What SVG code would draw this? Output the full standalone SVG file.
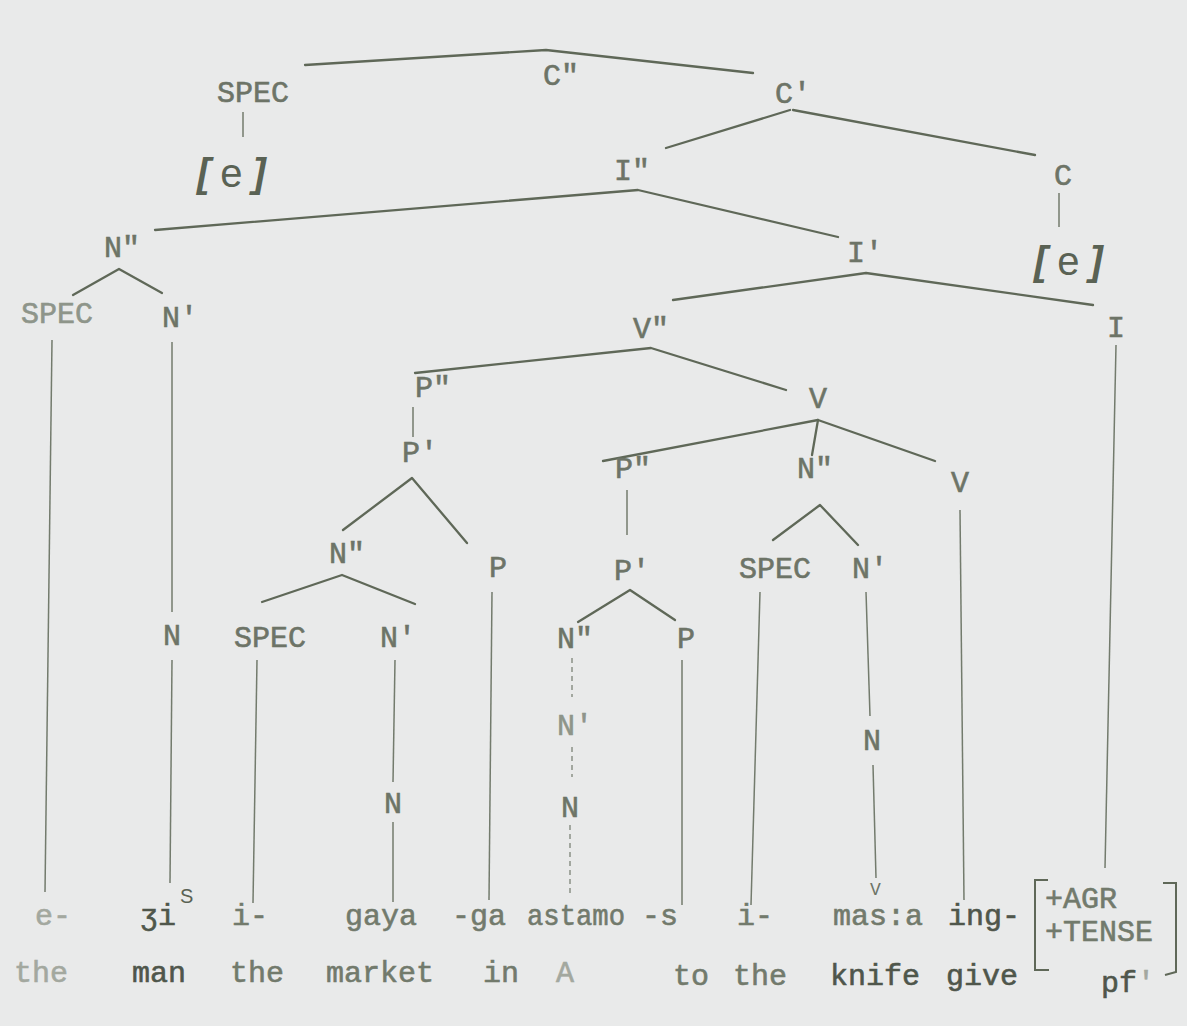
<svg xmlns="http://www.w3.org/2000/svg" width="1187" height="1026" viewBox="0 0 1187 1026">
  <style>
    .lbl { font-family: "Liberation Mono", "DejaVu Sans Mono", monospace; font-size: 30px; fill: #6d7467; stroke: #6d7467; stroke-width: 0.6; text-anchor: middle; }
    .lite { fill: #8e958a; stroke: #8e958a; }
    .word { font-family: "Liberation Mono", "DejaVu Sans Mono", monospace; font-size: 30px; fill: #727a6c; stroke: #727a6c; stroke-width: 0.6; }
    .dark { fill: #4f564b; stroke: #4f564b; }
    .pale { fill: #a3a89f; stroke: #a3a89f; }
    .empty { font-family: "Liberation Sans", "DejaVu Sans", sans-serif; font-size: 40px; fill: #5a6254; }
    .empty .br { font-style: italic; font-weight: bold; }
    .edge { fill: none; stroke: #5f6858; stroke-width: 2.3; stroke-linecap: round; stroke-linejoin: round; }
    .stem { fill: none; stroke: #737b6d; stroke-width: 1.5; }
    .dash { fill: none; stroke: #8a9186; stroke-width: 1.5; stroke-dasharray: 5 4; }
  </style>
  <rect width="1187" height="1026" fill="#e9eaea"/>

  <!-- branches -->
  <g id="connectors">
    <polyline class="edge" points="305,65 546,50 753,73"/>
    <polyline class="edge" points="666,148 790,110"/>
    <polyline class="edge" points="793,110 1035,155"/>
    <polyline class="edge" points="155,230 638,190 838,237"/>
    <polyline class="edge" points="73,295 119,269 162,293"/>
    <polyline class="edge" points="673,300 866,273 1093,305"/>
    <polyline class="edge" points="415,373 651,348 786,390"/>
    <polyline class="edge" points="343,530 412,478 467,543"/>
    <polyline class="edge" points="603,461 818,420 935,461"/>
    <polyline class="edge" points="818,420 812,455"/>
    <polyline class="edge" points="773,540 820,505 858,545"/>
    <polyline class="edge" points="262,602 342,575 415,604"/>
    <polyline class="edge" points="578,622 630,590 675,620"/>

    <line class="stem" x1="243" y1="112" x2="243" y2="137"/>
    <line class="stem" x1="1059" y1="193" x2="1059" y2="227"/>
    <line class="stem" x1="52" y1="340" x2="45" y2="892"/>
    <line class="stem" x1="172" y1="342" x2="172" y2="612"/>
    <line class="stem" x1="172" y1="660" x2="170" y2="883"/>
    <line class="stem" x1="1116" y1="345" x2="1105" y2="868"/>
    <line class="stem" x1="413" y1="407" x2="413" y2="437"/>
    <line class="stem" x1="627" y1="490" x2="627" y2="535"/>
    <line class="stem" x1="257" y1="660" x2="253" y2="903"/>
    <line class="stem" x1="395" y1="660" x2="393" y2="782"/>
    <line class="stem" x1="393" y1="822" x2="393" y2="902"/>
    <line class="stem" x1="492" y1="592" x2="489" y2="900"/>
    <line class="dash" x1="572" y1="658" x2="572" y2="697"/>
    <line class="dash" x1="572" y1="747" x2="572" y2="777"/>
    <line class="dash" x1="570" y1="825" x2="570" y2="897"/>
    <line class="stem" x1="682" y1="660" x2="682" y2="905"/>
    <line class="stem" x1="760" y1="592" x2="751" y2="905"/>
    <line class="stem" x1="866" y1="592" x2="870" y2="716"/>
    <line class="stem" x1="873" y1="765" x2="876" y2="878"/>
    <line class="stem" x1="960" y1="510" x2="964" y2="900"/>
  </g>

  <!-- category labels -->
  <g id="cp"><text class="lbl" x="561" y="85">C"</text></g>
  <g id="spec-c"><text class="lbl" x="253" y="102">SPEC</text></g>
  <g id="e-spec"><text class="empty" x="197" y="187"><tspan class="br">[</tspan><tspan dx="10">e</tspan><tspan class="br" dx="10">]</tspan></text></g>
  <g id="cbar"><text class="lbl" x="793" y="103">C'</text></g>
  <g id="ip"><text class="lbl" x="632" y="180">I"</text></g>
  <g id="c"><text class="lbl" x="1063" y="185">C</text></g>
  <g id="e-c"><text class="empty" x="1034" y="275"><tspan class="br">[</tspan><tspan dx="10">e</tspan><tspan class="br" dx="10">]</tspan></text></g>
  <g id="np-subj"><text class="lbl" x="122" y="257">N"</text></g>
  <g id="ibar"><text class="lbl" x="865" y="262">I'</text></g>
  <g id="spec-subj"><text class="lbl lite" x="57" y="323">SPEC</text></g>
  <g id="nbar-subj"><text class="lbl" x="180" y="327">N'</text></g>
  <g id="vp"><text class="lbl" x="651" y="338">V"</text></g>
  <g id="i"><text class="lbl" x="1116" y="337">I</text></g>
  <g id="pp-loc"><text class="lbl" x="433" y="397">P"</text></g>
  <g id="vbar"><text class="lbl" x="818" y="408">V</text></g>
  <g id="pbar-loc"><text class="lbl" x="420" y="462">P'</text></g>
  <g id="pp-goal"><text class="lbl" x="633" y="478">P"</text></g>
  <g id="np-obj"><text class="lbl" x="815" y="478">N"</text></g>
  <g id="v"><text class="lbl" x="960" y="492">V</text></g>
  <g id="np-loc"><text class="lbl" x="347" y="563">N"</text></g>
  <g id="p-loc"><text class="lbl" x="498" y="577">P</text></g>
  <g id="pbar-goal"><text class="lbl" x="632" y="580">P'</text></g>
  <g id="spec-obj"><text class="lbl" x="775" y="578">SPEC</text></g>
  <g id="nbar-obj"><text class="lbl" x="870" y="578">N'</text></g>
  <g id="n-subj"><text class="lbl" x="172" y="645">N</text></g>
  <g id="spec-loc"><text class="lbl" x="270" y="647">SPEC</text></g>
  <g id="nbar-loc"><text class="lbl" x="398" y="647">N'</text></g>
  <g id="np-goal"><text class="lbl" x="575" y="648">N"</text></g>
  <g id="p-goal"><text class="lbl" x="686" y="648">P</text></g>
  <g id="nbar-goal"><text class="lbl lite" x="575" y="735">N'</text></g>
  <g id="n-obj"><text class="lbl" x="872" y="750">N</text></g>
  <g id="n-loc"><text class="lbl" x="393" y="813">N</text></g>
  <g id="n-goal"><text class="lbl" x="570" y="817">N</text></g>

  <!-- morphemes -->
  <g id="morphemes">
    <text class="word pale" x="35" y="925">e-</text>
    <text class="word dark" x="140" y="925">ʒi</text>
    <text x="180" y="903" font-family="Liberation Sans, sans-serif" font-size="20" fill="#5a6254">S</text>
    <text class="word" x="232" y="925">i-</text>
    <text class="word" x="345" y="925">gaya</text>
    <text class="word" x="452" y="925">-ga</text>
    <text class="word" x="527" y="925" textLength="98" lengthAdjust="spacingAndGlyphs">astamo</text>
    <text class="word" x="642" y="925">-s</text>
    <text class="word" x="737" y="925">i-</text>
    <text class="word" x="833" y="925">mas:a</text>
    <text x="870" y="895" font-family="Liberation Mono, monospace" font-size="18" fill="#6d7467">V</text>
    <text class="word dark" x="948" y="925">ing-</text>
  </g>

  <!-- agreement / tense feature bracket -->
  <g id="features">
    <path d="M1048,880 L1035,880 L1035,970 L1049,970" fill="none" stroke="#5f6858" stroke-width="2"/>
    <path d="M1163,883 L1176,883 L1176,972 L1165,975" fill="none" stroke="#5f6858" stroke-width="2"/>
    <text class="word" x="1045" y="908">+AGR</text>
    <text class="word" x="1045" y="941">+TENSE</text>
  </g>

  <!-- glosses -->
  <g id="glosses">
    <text class="word pale" x="14" y="982">the</text>
    <text class="word dark" x="132" y="982">man</text>
    <text class="word" x="230" y="982">the</text>
    <text class="word" x="326" y="982">market</text>
    <text class="word" x="483" y="982">in</text>
    <text class="word pale" x="556" y="982">A</text>
    <text class="word" x="673" y="985">to</text>
    <text class="word" x="733" y="985">the</text>
    <text class="word dark" x="830" y="985">knife</text>
    <text class="word dark" x="946" y="985">give</text>
    <text class="word dark" x="1101" y="992">pf<tspan class="pale">'</tspan></text>
  </g>
</svg>
